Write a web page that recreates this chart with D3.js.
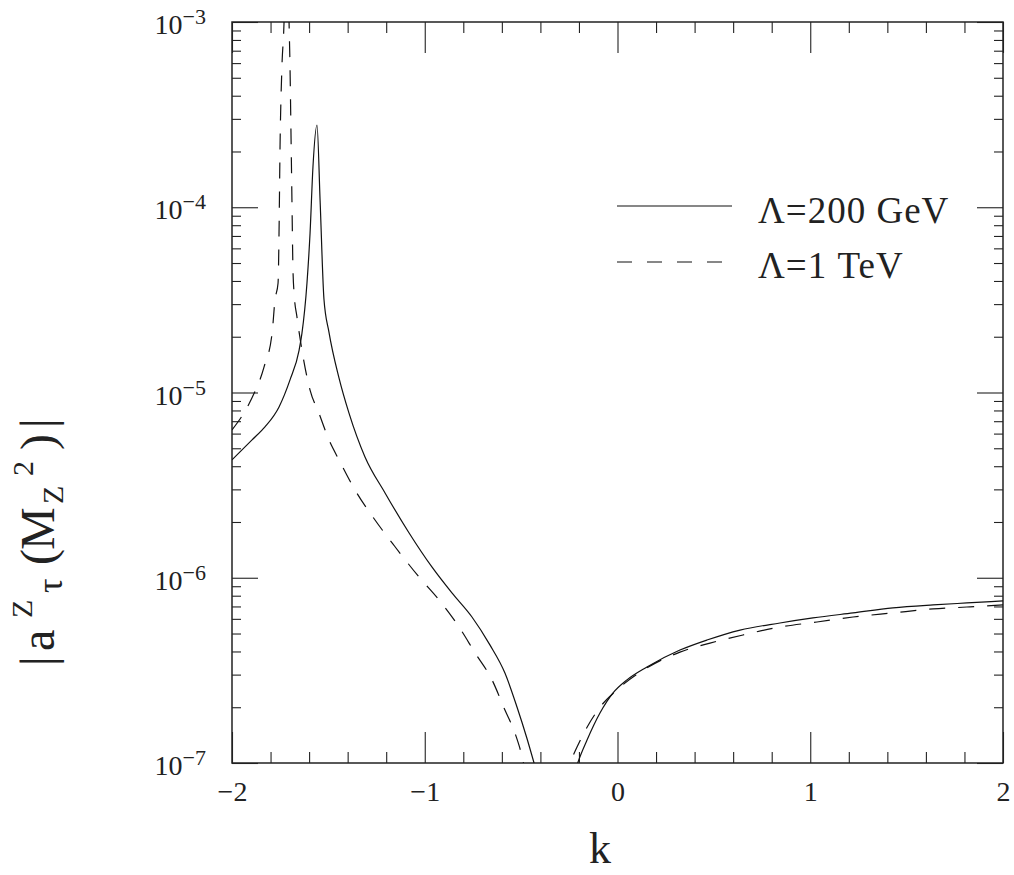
<!DOCTYPE html>
<html>
<head>
<meta charset="utf-8">
<script src="https://cdn.jsdelivr.net/npm/d3@7"></script>
<style>
  body { margin: 0; background: #fff; }
</style>
</head>
<body>
<svg width="1014" height="875"></svg>
<script>
// Lambda = 200 GeV (solid), two branches either side of the zero near k = -0.3
const kSolidA = [-2, -1.896, -1.829, -1.756, -1.699, -1.652, -1.637, -1.611, -1.595, -1.580, -1.559,
    -1.543, -1.523, -1.497, -1.445, -1.393, -1.310, -1.206, -1.082, -0.962, -0.859, -0.755, -0.662,
    -0.584, -0.521, -0.470, -0.433, -0.407];
const aSolidA = [4.33e-6, 5.55e-6, 6.52e-6, 8.36e-6, 1.17e-5, 1.69e-5, 2.09e-5, 3.90e-5, 7.26e-5, 1.65e-4, 2.78e-4,
    1.09e-4, 3.20e-5, 2.12e-5, 1.20e-5, 7.74e-6, 4.49e-6, 2.87e-6, 1.75e-6, 1.14e-6, 8.28e-7, 6.14e-7, 4.34e-7,
    3.06e-7, 2.00e-7, 1.36e-7, 1.0e-7, 8.0e-8];
const kSolidB = [-0.235, -0.205, -0.158, -0.091, -0.023, 0.049, 0.153, 0.324, 0.464, 0.636, 0.843, 1.014,
    1.222, 1.429, 1.637, 1.813, 2.0];
const aSolidB = [8.0e-8, 1.01e-7, 1.33e-7, 1.86e-7, 2.39e-7, 2.81e-7, 3.30e-7, 4.07e-7, 4.61e-7, 5.22e-7, 5.70e-7, 6.07e-7,
    6.46e-7, 6.87e-7, 7.13e-7, 7.31e-7, 7.50e-7];

// Lambda = 1 TeV (dashed)
const kDashA = [-2, -1.907, -1.834, -1.792, -1.777, -1.761, -1.756, -1.751, -1.741, -1.730, -1.717, -1.704,
    -1.699, -1.694, -1.689, -1.684, -1.678, -1.663, -1.637, -1.595, -1.549, -1.497, -1.445, -1.362, -1.258,
    -1.154, -1.030, -0.926, -0.822, -0.739, -0.651, -0.584, -0.532, -0.495, -0.47];
const aDashA = [6.28e-6, 8.89e-6, 1.37e-5, 2.09e-5, 3.16e-5, 3.90e-5, 7.26e-5, 2.04e-4, 5.71e-4, 1.0e-3, 5.0e-3, 1.0e-3,
    5.71e-4, 2.52e-4, 1.09e-4, 4.75e-5, 3.44e-5, 2.56e-5, 1.69e-5, 1.03e-5, 7.74e-6, 5.55e-6, 4.33e-6, 2.98e-6, 2.05e-6,
    1.47e-6, 1.01e-6, 7.59e-7, 5.42e-7, 3.93e-7, 2.81e-7, 1.93e-7, 1.45e-7, 1.08e-7, 8.0e-8];
const kDashB = [-0.29, -0.246, -0.210, -0.158, -0.091, -0.003, 0.153, 0.324, 0.480, 0.651, 0.843, 1.035,
    1.222, 1.429, 1.637, 1.813, 2.0];
const aDashB = [8.0e-8, 1.01e-7, 1.22e-7, 1.56e-7, 2.00e-7, 2.48e-7, 3.26e-7, 3.97e-7, 4.44e-7, 4.91e-7, 5.42e-7, 5.77e-7,
    6.14e-7, 6.46e-7, 6.79e-7, 6.95e-7, 7.13e-7];

// ticks
const xMajor = [-2, -1, 0, 1, 2];
const xMinor = d3.range(-2, 2.001, 0.2).filter(v => Math.abs(v - Math.round(v)) > 1e-6);
const yMajor = [1e-7, 1e-6, 1e-5, 1e-4, 1e-3];
const yExponents = ["−7", "−6", "−5", "−4", "−3"];
const yMinor = [];
[-7, -6, -5, -4].forEach(e => { for (let m = 2; m <= 9; m++) yMinor.push(m * Math.pow(10, e)); });

const legendLabels = ["Λ=200 GeV", "Λ=1 TeV"];

const FONT = "'Liberation Serif', 'Times New Roman', 'DejaVu Serif', serif";
const INK = "#222";

const svg = d3.select("svg");
const pLeft = 232, pRight = 1003, pTop = 22, pBottom = 763;

const x = d3.scaleLinear().domain([-2, 2]).range([pLeft, pRight]);
const y = d3.scaleLog().domain([1e-7, 1e-3]).range([pBottom, pTop]);

svg.append("defs").append("clipPath").attr("id", "plot")
    .append("rect").attr("x", pLeft).attr("y", pTop)
    .attr("width", pRight - pLeft).attr("height", pBottom - pTop);

// axes: inward ticks on all four sides
function styleAxis(g) {
    g.select(".domain").remove();
    g.selectAll(".tick line").attr("stroke", INK).attr("stroke-width", 1.1);
}
svg.append("g").attr("transform", `translate(0,${pBottom})`)
    .call(d3.axisBottom(x).tickValues(xMinor).tickSize(-11).tickFormat(""))
    .call(styleAxis);
const xb = svg.append("g").attr("transform", `translate(0,${pBottom})`)
    .call(d3.axisBottom(x).tickValues(xMajor).tickSize(-31).tickFormat(d3.format("d")))
    .call(styleAxis);
xb.attr("font-family", null).attr("font-size", null);
xb.selectAll(".tick text").attr("y", 38).attr("dy", null)
    .style("font-family", FONT).style("font-size", "28px").attr("fill", INK);

svg.append("g").attr("transform", `translate(0,${pTop})`)
    .call(d3.axisTop(x).tickValues(xMinor).tickSize(-11).tickFormat(""))
    .call(styleAxis);
svg.append("g").attr("transform", `translate(0,${pTop})`)
    .call(d3.axisTop(x).tickValues(xMajor).tickSize(-31).tickFormat(""))
    .call(styleAxis);

svg.append("g").attr("transform", `translate(${pLeft},0)`)
    .call(d3.axisLeft(y).tickValues(yMinor).tickSize(-9).tickFormat(""))
    .call(styleAxis);
svg.append("g").attr("transform", `translate(${pLeft},0)`)
    .call(d3.axisLeft(y).tickValues(yMajor).tickSize(-26).tickFormat(""))
    .call(styleAxis);
svg.append("g").attr("transform", `translate(${pRight},0)`)
    .call(d3.axisRight(y).tickValues(yMinor).tickSize(-9).tickFormat(""))
    .call(styleAxis);
svg.append("g").attr("transform", `translate(${pRight},0)`)
    .call(d3.axisRight(y).tickValues(yMajor).tickSize(-26).tickFormat(""))
    .call(styleAxis);

// y tick labels 10^n
const yl = svg.append("g").selectAll("text").data(yMajor).join("text")
    .attr("x", 206).attr("y", d => y(d) + 12)
    .attr("text-anchor", "end").attr("fill", INK)
    .style("font-family", FONT);
yl.append("tspan").style("font-size", "28px").text("10");
yl.append("tspan").style("font-size", "22px").attr("dy", -10).text((d, i) => yExponents[i]);

// frame
svg.append("rect").attr("x", pLeft).attr("y", pTop)
    .attr("width", pRight - pLeft).attr("height", pBottom - pTop)
    .attr("fill", "none").attr("stroke", INK).attr("stroke-width", 1.5);

// curves
const line = d3.line().x(d => x(d[0])).y(d => y(d[1])).curve(d3.curveMonotoneX);
const curves = [
    { k: kSolidA, a: aSolidA, dash: null },
    { k: kSolidB, a: aSolidB, dash: null },
    { k: kDashA, a: aDashA, dash: "16,13" },
    { k: kDashB, a: aDashB, dash: "16,13" }
];
svg.append("g").attr("clip-path", "url(#plot)")
    .selectAll("path").data(curves).join("path")
    .attr("d", c => line(c.k.map((k, i) => [k, c.a[i]])))
    .attr("fill", "none").attr("stroke", "#111").attr("stroke-width", 1.2)
    .attr("stroke-dasharray", c => c.dash);

// legend
const leg = svg.append("g");
leg.selectAll("line").data(legendLabels).join("line")
    .attr("x1", 617).attr("x2", (d, i) => i === 0 ? 732 : 722)
    .attr("y1", (d, i) => 206 + i * 56).attr("y2", (d, i) => 206 + i * 56)
    .attr("stroke", "#111").attr("stroke-width", 1.2)
    .attr("stroke-dasharray", (d, i) => i === 0 ? null : "15,15");
leg.selectAll("text").data(legendLabels).join("text")
    .attr("x", 758).attr("y", (d, i) => 223 + i * 55)
    .attr("fill", INK).style("font-family", FONT)
    .style("font-size", "37px").style("letter-spacing", "1px").text(d => d);

// x label
svg.append("text").attr("x", 600).attr("y", 863).attr("text-anchor", "middle")
    .attr("fill", INK).style("font-family", FONT)
    .style("font-size", "44px").text("k");

// y label |a^Z_tau(M_Z^2)|, glyphs placed along the rotated baseline
const yGlyphs = [
    { t: "|", u: -4, v: 0, s: 48 },
    { t: "a", u: 11, v: 0, s: 48 },
    { t: "Z", u: 44, v: -22, s: 30 },
    { t: "τ", u: 69, v: 8, s: 36 },
    { t: "(", u: 97, v: 0, s: 48 },
    { t: "M", u: 112, v: 0, s: 48 },
    { t: "Z", u: 158, v: 9, s: 30 },
    { t: "2", u: 186, v: -21, s: 30 },
    { t: ")", u: 212, v: 0, s: 48 },
    { t: "|", u: 234, v: 0, s: 48 }
];
svg.append("g").attr("transform", "translate(54,662) rotate(-90)")
    .selectAll("text").data(yGlyphs).join("text")
    .attr("x", d => d.u).attr("y", d => d.v)
    .attr("fill", INK).style("font-family", FONT)
    .style("font-size", d => d.s + "px").text(d => d.t);
</script>
</body>
</html>
